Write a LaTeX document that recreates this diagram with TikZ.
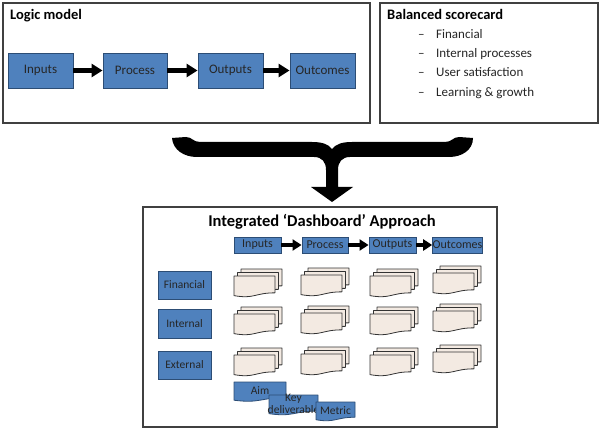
\documentclass[tikz,border=0pt]{standalone}
\usepackage{fontspec}
\setmainfont{Carlito}
\usetikzlibrary{arrows.meta}
\definecolor{bfill}{HTML}{4F81BD}
\definecolor{bline}{HTML}{2C4D75}
\definecolor{sheetfill}{HTML}{F3EAE2}
\definecolor{sheetline}{HTML}{333333}
\definecolor{boxline}{HTML}{404040}
\newcommand\myfs[1]{\fontsize{#1}{#1}\selectfont}
\tikzset{
  frame/.style={draw=boxline, line width=1.1pt, fill=white, inner sep=0},
  bluebox/.style={draw=bline, fill=bfill, line width=0.9pt, inner sep=0},
  bigtext/.style={font={\myfs{13}}, text=black!85},
  midtext/.style={font={\myfs{12}}, text=black!85},
  smalltext/.style={font={\myfs{11.5}}, text=black!85},
  titletext/.style={font={\bfseries\myfs{14.5}}, inner sep=0, anchor=mid west},
  listtext/.style={font={\myfs{13}}, inner sep=0, anchor=mid west, text=black!85},
  bigarr/.style={line width=4.5pt, -{Triangle[length=11pt,width=13pt]}},
  smallarr/.style={line width=3.5pt, -{Triangle[length=9pt,width=11pt]}},
  sheet/.style={fill=sheetfill, draw=sheetline, line width=0.8pt, line join=round},
  bluedoc/.style={fill=bfill, draw=bline, line width=0.8pt, line join=round},
  mdoc/.pic={
    \foreach \o in {7,3.5,0}{
      \filldraw[sheet, shift={(\o,-\o+7)}, xscale=41, yscale=21]
        (0,0) -- (1,0) -- (1,0.802) .. controls (0.5,0.802) and (0.5,1.107) .. (0,0.934) -- cycle;
    }
  }
}
\begin{document}
\begin{tikzpicture}[x=1pt,y=-1pt]
\useasboundingbox (0,0) rectangle (600,433);

% Logic model
\node[frame, minimum width=367pt, minimum height=120pt] (lm) at (186.5,63) {};
\node[titletext] (lmt) at (10,17) {Logic model};
\node[bluebox, bigtext, minimum width=65pt, minimum height=35pt] (in) at (40.5,70.5) {Inputs};
\node[bluebox, bigtext, minimum width=64pt, minimum height=35pt] (pr) at (135,70.5) {Process};
\node[bluebox, bigtext, minimum width=65pt, minimum height=35pt] (op) at (230.5,70.5) {Outputs};
\node[bluebox, bigtext, minimum width=65pt, minimum height=35pt] (oc) at (322.5,70.5) {Outcomes};
\draw[bigarr] (in) -- (pr);
\draw[bigarr] (pr) -- (op);
\draw[bigarr] (op) -- (oc);

% Balanced scorecard
\node[frame, minimum width=218pt, minimum height=120pt] (bsc) at (489,63) {};
\node[titletext] (bsct) at (387,17) {Balanced scorecard};
\node[listtext] (d1) at (418,36) {–};
\node[listtext] (l1) at (436,36) {Financial};
\node[listtext] (d2) at (418,55.3) {–};
\node[listtext] (l2) at (436,55.3) {Internal processes};
\node[listtext] (d3) at (418,74.6) {–};
\node[listtext] (l3) at (436,74.6) {User satisfaction};
\node[listtext] (d4) at (418,93.9) {–};
\node[listtext] (l4) at (436,93.9) {Learning \& growth};

% Brace arrow
\coordinate (bl) at (172,138);
\coordinate (br) at (473,138);
\fill[black] (bl) -- (186,137) .. controls (192,137) and (193,142) .. (200,142)
  -- (312,142) .. controls (322,142) and (328,144) .. (332,149)
  .. controls (336,144) and (342,142) .. (352,142)
  -- (445,142) .. controls (452,142) and (453,137) .. (459,137) -- (br)
  .. controls (473,150) and (462,157) .. (449,157)
  -- (350,157) .. controls (342,157) and (338,162) .. (338,170)
  -- (338,187) -- (353,187) -- (332,202) -- (311,187) -- (326,187)
  -- (326,170) .. controls (326,162) and (322,157) .. (314,157)
  -- (197,157) .. controls (184,157) and (173,150) .. (bl) -- cycle;

% Dashboard
\node[frame, minimum width=354pt, minimum height=220pt] (db) at (320,317) {};
\node[font={\bfseries\myfs{16.5}}, inner sep=0] (dbt) at (322,222) {Integrated ‘Dashboard’ Approach};
\node[bluebox, midtext, minimum width=47pt, minimum height=16pt] (hin) at (257.5,245) {Inputs};
\node[bluebox, midtext, minimum width=46pt, minimum height=16pt] (hpr) at (325,245) {Process};
\node[bluebox, midtext, minimum width=47pt, minimum height=16pt] (hop) at (392.5,245) {Outputs};
\node[bluebox, midtext, minimum width=47pt, minimum height=16pt] (hoc) at (457.5,245) {Outcomes};
\draw[smallarr] (hin) -- (hpr);
\draw[smallarr] (hpr) -- (hop);
\draw[smallarr] (hop) -- (hoc);

\node[bluebox, smalltext, minimum width=53pt, minimum height=28pt] (fin) at (184.5,285) {Financial};
\node[bluebox, smalltext, minimum width=53pt, minimum height=29pt] (int) at (184.5,323.5) {Internal};
\node[bluebox, smalltext, minimum width=53pt, minimum height=28pt] (ext) at (184.5,365) {External};

\foreach \r/\y in {1/269,2/307,3/348}{
  \pic (m\r a) at (234,\y) {mdoc};
  \pic (m\r b) at (301,\y-1) {mdoc};
  \pic (m\r c) at (370,\y) {mdoc};
  \pic (m\r d) at (433,\y-3) {mdoc};
}

% Aim / Key deliverable / Metric
\filldraw[bluedoc, shift={(234,382)}, xscale=52, yscale=19.5]
  (0,0) -- (1,0) -- (1,0.802) .. controls (0.5,0.802) and (0.5,1.107) .. (0,0.934) -- cycle;
\node[smalltext, inner sep=0] (aim) at (260,391) {Aim};
\filldraw[bluedoc, shift={(269,395)}, xscale=49, yscale=20]
  (0,0) -- (1,0) -- (1,0.802) .. controls (0.5,0.802) and (0.5,1.107) .. (0,0.934) -- cycle;
\node[font={\fontsize{11.5}{12}\selectfont}, text=black!85, inner sep=0, align=center] (key) at (293.5,404) {Key\\deliverable};
\filldraw[bluedoc, shift={(316,402)}, xscale=39, yscale=19]
  (0,0) -- (1,0) -- (1,0.802) .. controls (0.5,0.802) and (0.5,1.107) .. (0,0.934) -- cycle;
\node[smalltext, inner sep=0] (met) at (335.5,410.5) {Metric};
\end{tikzpicture}
\end{document}
